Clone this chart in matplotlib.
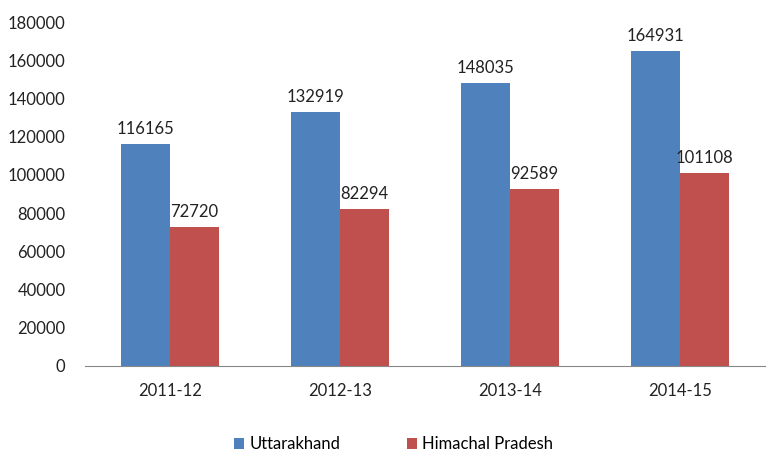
import numpy as np
import matplotlib.pyplot as plt

years = ['2011-12', '2012-13', '2013-14', '2014-15']
uttarakhand = [116165, 132919, 148035, 164931]
himachal = [72720, 82294, 92589, 101108]

plt.rcParams['font.family'] = ['Lato', 'DejaVu Sans']

fig = plt.figure(figsize=(7.72, 4.54), dpi=100)
ax = fig.add_axes([0.110, 0.194, 0.881, 0.7575])

x = np.arange(len(years))
w = 0.29
b1 = ax.bar(x - w / 2, uttarakhand, w, color='#4F81BD', label='Uttarakhand')
b2 = ax.bar(x + w / 2, himachal, w, color='#C0504D', label='Himachal Pradesh')

for bars in (b1, b2):
    for rect in bars:
        ax.annotate(f'{int(rect.get_height())}',
                    (rect.get_x() + rect.get_width() / 2, rect.get_height()),
                    xytext=(0, 5), textcoords='offset points',
                    ha='center', va='bottom', fontsize=12, color='#222222')

ax.set_xlim(-0.5, len(years) - 0.5)
ax.set_ylim(0, 180000)
ax.set_yticks(range(0, 180001, 20000))
ax.set_xticks(x)
ax.set_xticklabels(years)
ax.tick_params(axis='both', length=0, labelsize=12, colors='#222222')
ax.tick_params(axis='y', pad=14)
ax.tick_params(axis='x', pad=12)

for s in ('top', 'right', 'left'):
    ax.spines[s].set_visible(False)
ax.spines['bottom'].set_color('#888888')

fig.legend(loc='lower center', bbox_to_anchor=(0.51, 0.004), ncol=2, frameon=False,
           fontsize=12, handlelength=0.6, handleheight=0.6, columnspacing=4,
           handletextpad=0.3, borderpad=0, borderaxespad=0)

fig.savefig('out.png', dpi=100)
